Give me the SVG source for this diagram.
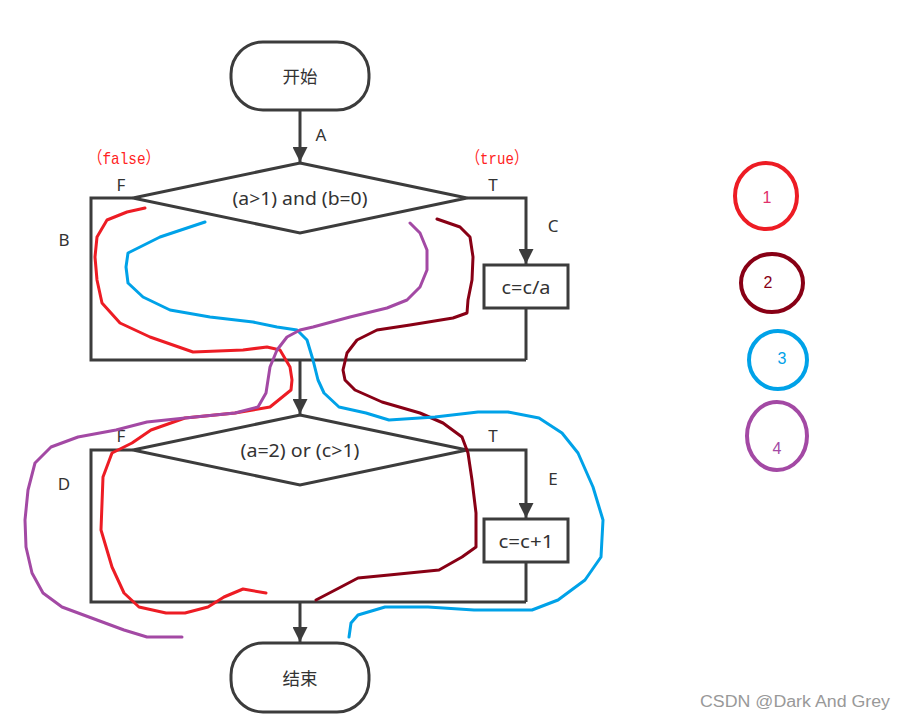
<svg xmlns="http://www.w3.org/2000/svg" width="906" height="720" viewBox="0 0 906 720">
<style>
.shape{fill:#fff;stroke:#3c3c3c;stroke-width:3}
.line{fill:none;stroke:#3c3c3c;stroke-width:3}
.t{font-family:"Noto Sans","Noto Sans CJK SC",sans-serif;font-size:17.5px;fill:#333;text-anchor:middle;dominant-baseline:central}
.lbl{font-family:"Noto Sans",sans-serif;font-size:17px;fill:#333;text-anchor:middle;dominant-baseline:central}
.red{font-family:"Liberation Mono","Noto Sans CJK SC",monospace;font-size:17px;fill:#f22;dominant-baseline:central}
.pen{fill:none;stroke-width:3;stroke-linejoin:round;stroke-linecap:round}
.num{font-family:"Liberation Sans",sans-serif;font-size:16px;text-anchor:middle;dominant-baseline:central}
</style>
<defs>
<marker id="ah" viewBox="0 0 10 10" refX="10" refY="5" markerWidth="5" markerHeight="5" orient="auto">
<path d="M0,0 L10,5 L0,10 z" fill="#3c3c3c"/>
</marker>
</defs>
<rect width="906" height="720" fill="#fff"/>
<g id="connectors">
<path class="line" d="M300,110 V162" marker-end="url(#ah)"/>
<path class="line" d="M133,198 H91 V360 H526"/>
<path class="line" d="M467,198 H526 V264" marker-end="url(#ah)"/>
<path class="line" d="M526,308 V360"/>
<path class="line" d="M300,360 V414" marker-end="url(#ah)"/>
<path class="line" d="M133,450 H91 V602 H526"/>
<path class="line" d="M467,450 H526 V518" marker-end="url(#ah)"/>
<path class="line" d="M526,562 V602"/>
<path class="line" d="M300,602 V642" marker-end="url(#ah)"/>
</g>
<g id="start">
<rect class="shape" x="231" y="42" width="138" height="68" rx="32"/>
<text class="t" x="300" y="76" font-size="18">开始</text>
</g>
<g id="cond1">
<polygon class="shape" points="300,163 467,198 300,233 133,198"/>
<text class="t" x="300" y="198" textLength="135" lengthAdjust="spacingAndGlyphs">(a&gt;1) and (b=0)</text>
</g>
<g id="box1">
<rect class="shape" x="484" y="265" width="84" height="43"/>
<text class="t" x="526" y="287" textLength="49" lengthAdjust="spacingAndGlyphs">c=c/a</text>
</g>
<g id="cond2">
<polygon class="shape" points="300,415 467,450 300,485 133,450"/>
<text class="t" x="300" y="450" textLength="119" lengthAdjust="spacingAndGlyphs">(a=2) or (c&gt;1)</text>
</g>
<g id="box2">
<rect class="shape" x="484" y="519" width="84" height="43"/>
<text class="t" x="526" y="541" textLength="55" lengthAdjust="spacingAndGlyphs">c=c+1</text>
</g>
<g id="end">
<rect class="shape" x="231" y="643" width="138" height="69" rx="32"/>
<text class="t" x="300" y="678" font-size="18">结束</text>
</g>
<g id="labels">
<text class="lbl" x="321" y="134">A</text>
<text class="lbl" x="64" y="239">B</text>
<text class="lbl" x="553" y="225">C</text>
<text class="lbl" x="64" y="483">D</text>
<text class="lbl" x="553" y="478">E</text>
<text class="lbl" x="121" y="184">F</text>
<text class="lbl" x="493" y="184">T</text>
<text class="lbl" x="121" y="435">F</text>
<text class="lbl" x="493" y="435">T</text>
<text class="red" x="88" y="159" textLength="72" lengthAdjust="spacingAndGlyphs">（false）</text>
<text class="red" x="466" y="159" textLength="62" lengthAdjust="spacingAndGlyphs">（true）</text>
</g>
<g id="paths">
<path class="pen" stroke="#ed1c24" d="M145,208 L127,212 L107,220 L97,237 L95,257 L97,280 L102,303 L120,323 L150,337 L193,352 L243,350 L267,347 L280,350 L290,367 L292,380 L291,390 L270,407 L235,413 L185,418 L151,430 L132,443 L112,453 L103,477 L101,530 L112,567 L124,593 L139,607 L166,613 L185,613 L208,607 L224,597 L243,589 L266,593"/>
<path class="pen" stroke="#880015" d="M437,219 L460,227 L470,237 L473,257 L472,280 L468,300 L467,313 L453,318 L410,325 L377,330 L357,340 L347,353 L343,370 L345,380 L355,390 L382,402 L420,413 L443,423 L462,437 L468,453 L472,480 L476,513 L476,547 L462,557 L439,570 L389,575 L358,578 L339,588 L316,600"/>
<path class="pen" stroke="#00a2e8" d="M205,222 L187,228 L160,237 L140,247 L128,253 L126,267 L128,283 L143,297 L170,310 L210,317 L253,322 L277,327 L297,330 L307,340 L313,360 L318,380 L324,393 L339,407 L366,413 L389,420 L435,417 L478,412 L508,412 L539,418 L562,433 L578,453 L593,487 L603,520 L601,557 L585,580 L558,600 L532,610 L474,610 L428,607 L385,607 L358,615 L351,623 L349,637"/>
<path class="pen" stroke="#a349a4" d="M410,223 L420,233 L427,250 L427,270 L420,287 L407,300 L387,308 L350,317 L313,327 L300,330 L287,337 L277,350 L270,367 L268,380 L266,393 L258,407 L235,413 L185,418 L147,422 L116,430 L78,437 L51,447 L35,463 L28,490 L25,520 L26,547 L32,573 L43,593 L62,607 L97,620 L124,630 L147,637 L182,637"/>
</g>
<g id="legend">
<ellipse cx="766" cy="196" rx="31" ry="33" fill="none" stroke="#ed1c24" stroke-width="4"/>
<text class="num" x="767" y="197" fill="#e0306a">1</text>
<ellipse cx="772" cy="283" rx="31" ry="29" fill="none" stroke="#880015" stroke-width="4"/>
<text class="num" x="768" y="282" fill="#880015">2</text>
<ellipse cx="778" cy="360" rx="29" ry="29" fill="none" stroke="#00a2e8" stroke-width="4"/>
<text class="num" x="782" y="358" fill="#00a2e8">3</text>
<ellipse cx="777" cy="436" rx="30" ry="34" fill="none" stroke="#a349a4" stroke-width="4"/>
<text class="num" x="777" y="448" fill="#a349a4">4</text>
</g>
<text x="795" y="701" font-family="'Liberation Sans',sans-serif" font-size="16" fill="#999" text-anchor="middle" dominant-baseline="central" textLength="190" lengthAdjust="spacingAndGlyphs">CSDN @Dark And Grey</text>
</svg>
